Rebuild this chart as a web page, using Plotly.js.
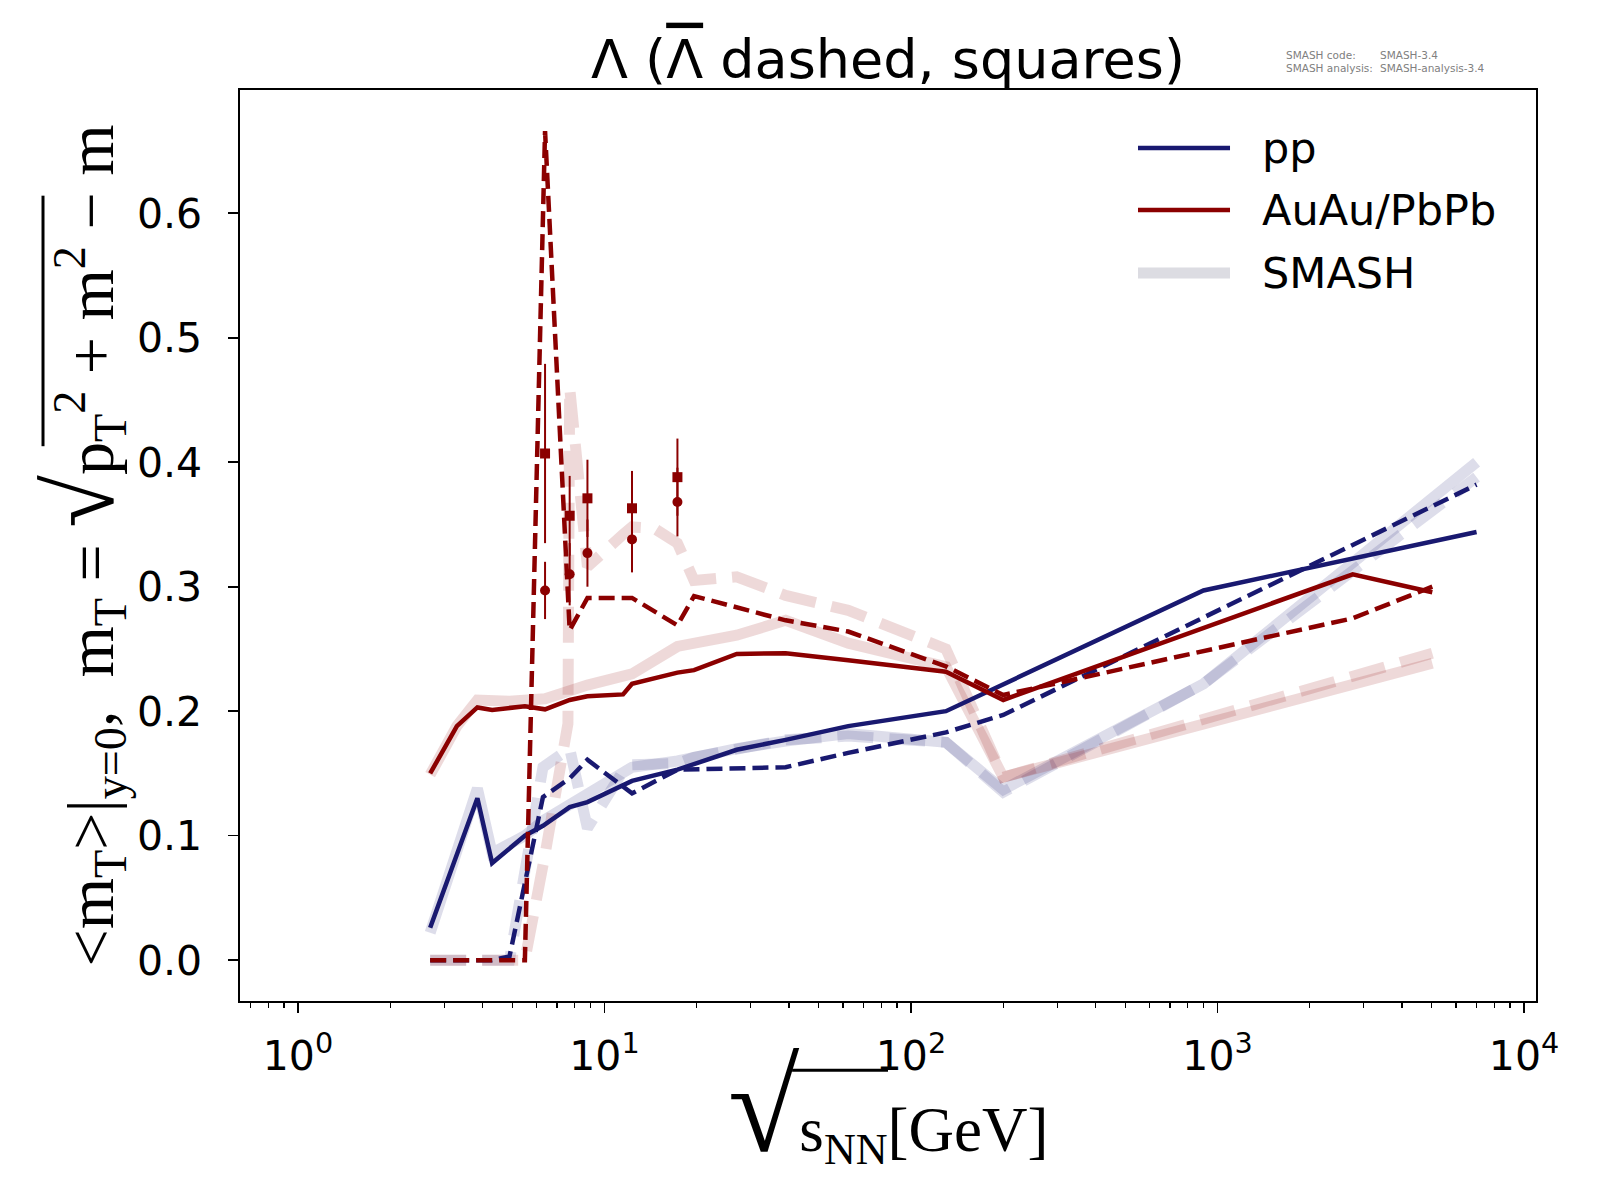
<!DOCTYPE html>
<html>
<head>
<meta charset="utf-8">
<script src="https://cdn.plot.ly/plotly-3.0.1.min.js"></script>
<style>html,body{margin:0;padding:0;background:#fff;}#chart{width:1600px;height:1200px;}</style>
</head>
<body>
<div id="chart"></div>
<script>
// ---- data ----
const ppLambdaX   = [2.7, 3.85, 4.3, 5.5, 6.3, 7.7, 8.8, 12.3, 17.3, 27, 39, 62.4, 130, 900, 7000];
const ppLambdaY   = [0.026, 0.130, 0.078, 0.100, 0.108, 0.123, 0.127, 0.144, 0.153, 0.169, 0.177, 0.188, 0.200, 0.297, 0.344];

const ppAntiX     = [2.7, 3.85, 4.3, 4.9, 6.3, 7.7, 8.8, 12.3, 17.3, 39, 62.4, 130, 200, 7000];
const ppAntiY     = [0, 0, 0, 0.003, 0.131, 0.146, 0.161, 0.134, 0.153, 0.155, 0.1665, 0.183, 0.197, 0.382];

const aaLambdaX   = [2.7, 3.3, 3.85, 4.3, 5.5, 6.4, 7.7, 8.8, 11.5, 12.3, 17.3, 19.6, 27, 39, 62.4, 130, 200, 2760, 5020];
const aaLambdaY   = [0.150, 0.188, 0.203, 0.201, 0.204, 0.2015, 0.209, 0.212, 0.2135, 0.222, 0.231, 0.233, 0.246, 0.2465, 0.241, 0.2317, 0.209, 0.310, 0.2955];

const aaAntiX     = [2.7, 3.3, 3.85, 4.3, 5.5, 6.4, 7.7, 8.8, 12.3, 17.3, 19.6, 39, 62.4, 130, 200, 2760, 5020];
const aaAntiY     = [0, 0, 0, 0, 0, 0.666, 0.265, 0.291, 0.291, 0.269, 0.2925, 0.273, 0.264, 0.236, 0.213, 0.2746, 0.300];

const smashPpLambdaX = [2.7, 3.85, 4.3, 5.5, 6.3, 7.7, 8.8, 12.3, 17.3, 27, 39, 62.4, 130, 200, 900, 7000];
const smashPpLambdaY = [0.022, 0.138, 0.086, 0.100, 0.112, 0.125, 0.132, 0.155, 0.160, 0.170, 0.176, 0.182, 0.175, 0.137, 0.222, 0.400];

const smashPpAntiX   = [2.7, 3.85, 4.9, 6.3, 7.7, 8.8, 11.5, 12.3, 17.3, 19.6, 27, 39, 62.4, 130, 200, 900, 7000];
const smashPpAntiY   = [0, 0, 0, 0.155, 0.170, 0.106, 0.152, 0.157, 0.158, 0.163, 0.170, 0.177, 0.180, 0.175, 0.135, 0.222, 0.388];

const smashAaLambdaX = [2.7, 3.3, 3.85, 4.9, 6.4, 8.8, 12.3, 17.3, 27, 39, 62.4, 130, 200, 5020];
const smashAaLambdaY = [0.149, 0.188, 0.209, 0.208, 0.210, 0.221, 0.230, 0.252, 0.261, 0.273, 0.2546, 0.2357, 0.147, 0.2385];

const smashAaAntiX   = [2.7, 3.3, 3.85, 4.3, 5.5, 6.4, 7.6, 7.7, 8.8, 11.5, 12.3, 14.5, 17.3, 19.6, 27, 39, 62.4, 130, 200, 5020];
const smashAaAntiY   = [0, 0, 0, 0, 0, 0.085, 0.19, 0.46, 0.316, 0.342, 0.348, 0.347, 0.335, 0.305, 0.308, 0.293, 0.281, 0.250, 0.147, 0.2465];

const expX        = [6.4, 7.7, 8.8, 12.3, 17.3];
const expLambdaY  = [0.297, 0.310, 0.327, 0.338, 0.368];
const expLambdaE  = [0.023, 0.025, 0.027, 0.0265, 0.0276];
const expAntiY    = [0.407, 0.357, 0.371, 0.363, 0.388];
const expAntiE    = [0.072, 0.032, 0.031, 0.030, 0.031];

const xTickVals   = [1, 10, 100, 1000, 10000];
const xTickText   = ['10<sup>0</sup>', '10<sup>1</sup>', '10<sup>2</sup>', '10<sup>3</sup>', '10<sup>4</sup>'];
const yTickVals   = [0, 0.1, 0.2, 0.3, 0.4, 0.5, 0.6];
const legendNames = ['pp', 'AuAu/PbPb', 'SMASH'];

// ---- styles ----
const NAVY = '#191970', DRED = '#8b0000';
const PALE_NAVY = 'rgba(25,25,112,0.15)', PALE_RED = 'rgba(139,0,0,0.15)';
const DATA_DASH = '16px,7px', PALE_DASH = '36px,16px';
const DATA_W = 4.5, PALE_W = 11;

function line(x, y, color, width, dash) {
  return {x: x, y: y, type: 'scatter', mode: 'lines', showlegend: false, hoverinfo: 'skip',
          line: {color: color, width: width, dash: dash || 'solid'}};
}

const minorVals = [0.7, 0.8, 0.9];
for (let d = 0; d < 4; d++) for (let k = 2; k <= 9; k++) minorVals.push(k * Math.pow(10, d));

const traces = [
  line(smashPpLambdaX, smashPpLambdaY, PALE_NAVY, PALE_W),
  line(smashPpAntiX, smashPpAntiY, PALE_NAVY, PALE_W, PALE_DASH),
  line(smashAaLambdaX, smashAaLambdaY, PALE_RED, PALE_W),
  line(smashAaAntiX, smashAaAntiY, PALE_RED, PALE_W, PALE_DASH),
  line(ppLambdaX, ppLambdaY, NAVY, DATA_W),
  line(ppAntiX, ppAntiY, NAVY, DATA_W, DATA_DASH),
  line(aaLambdaX, aaLambdaY, DRED, DATA_W),
  line(aaAntiX, aaAntiY, DRED, DATA_W, DATA_DASH),
  {x: expX, y: expLambdaY, type: 'scatter', mode: 'markers', showlegend: false,
   marker: {symbol: 'circle', size: 10, color: DRED},
   error_y: {type: 'data', array: expLambdaE, visible: true, thickness: 2, width: 0, color: DRED}},
  {x: expX, y: expAntiY, type: 'scatter', mode: 'markers', showlegend: false,
   marker: {symbol: 'square', size: 10, color: DRED},
   error_y: {type: 'data', array: expAntiE, visible: true, thickness: 2, width: 0, color: DRED}}
];

// manual legend (paper coordinates)
const legX0 = 0.6929, legX1 = 0.7639, legTX = 0.787;
const legY = [0.9363, 0.8683, 0.7991];
const legStyles = [{c: NAVY, w: DATA_W}, {c: DRED, w: DATA_W}, {c: '#dcdce2', w: PALE_W}];
const shapes = legY.map((y, i) => ({type: 'line', xref: 'paper', yref: 'paper', x0: legX0, x1: legX1, y0: y, y1: y,
  line: {color: legStyles[i].c, width: legStyles[i].w}}));

// vinculum (overline) of the square roots in the axis titles
shapes.push({type: 'line', xref: 'paper', yref: 'paper', x0: 0.4260, x1: 0.5, y0: -0.0760, y1: -0.0760,
             line: {color: '#000', width: 3}});
shapes.push({type: 'line', xref: 'paper', yref: 'paper', x0: -0.1520, x1: -0.1520, y0: 0.884, y1: 0.609,
             line: {color: '#000', width: 3}});

const annotations = legY.map((y, i) => ({xref: 'paper', yref: 'paper', x: legTX, y: y, xanchor: 'left', yanchor: 'middle',
  showarrow: false, text: legendNames[i], font: {family: 'DejaVu Sans', size: 43, color: '#000'}}));

// x-axis title
annotations.push({xref: 'paper', yref: 'paper', x: 0.5, y: -0.198, xanchor: 'center', yanchor: 'bottom', showarrow: false,
  text: '<span style="font-size:130px">√</span>s<sub>NN</sub>[GeV]',
  font: {family: 'Liberation Serif', size: 63, color: '#000'}});

const smallFont = {family: 'DejaVu Sans', size: 10.5, color: '#808080'};
annotations.push(
  {xref: 'paper', yref: 'paper', x: 0.8056, y: 1.0384, xanchor: 'left', yanchor: 'middle', showarrow: false, text: 'SMASH code:', font: smallFont},
  {xref: 'paper', yref: 'paper', x: 0.8781, y: 1.0384, xanchor: 'left', yanchor: 'middle', showarrow: false, text: 'SMASH-3.4', font: smallFont},
  {xref: 'paper', yref: 'paper', x: 0.8056, y: 1.0245, xanchor: 'left', yanchor: 'middle', showarrow: false, text: 'SMASH analysis:', font: smallFont},
  {xref: 'paper', yref: 'paper', x: 0.8781, y: 1.0245, xanchor: 'left', yanchor: 'middle', showarrow: false, text: 'SMASH-analysis-3.4', font: smallFont}
);

const layout = {
  width: 1600, height: 1200,
  paper_bgcolor: '#fff', plot_bgcolor: '#fff',
  margin: {l: 240, r: 64, t: 90, b: 199},
  showlegend: false,
  font: {family: 'DejaVu Sans', color: '#000'},
  title: {text: 'Λ (<span style="text-decoration:overline">Λ</span> dashed, squares)', xref: 'paper', x: 0.5, xanchor: 'center',
          yref: 'container', y: 0.951, yanchor: 'middle', font: {family: 'DejaVu Sans', size: 54, color: '#000'}},
  xaxis: {
    type: 'log', range: [-0.189, 4.039], autorange: false,
    tickmode: 'array', tickvals: xTickVals, ticktext: xTickText,
    ticks: 'outside', ticklen: 10, tickwidth: 1.6, tickcolor: '#000',
    minor: {tickmode: 'array', tickvals: minorVals, ticks: 'outside', ticklen: 5, tickwidth: 1.2, tickcolor: '#000', showgrid: false},
    showline: true, linecolor: '#000', linewidth: 1.7, mirror: true,
    showgrid: false, zeroline: false,
    tickfont: {family: 'DejaVu Sans', size: 41, color: '#000'}, ticklabelstandoff: 8
  },
  yaxis: {
    range: [-0.0328, 0.699], autorange: false,
    tickmode: 'array', tickvals: yTickVals, tickformat: '.1f',
    ticks: 'outside', ticklen: 10, tickwidth: 1.6, tickcolor: '#000',
    showline: true, linecolor: '#000', linewidth: 1.7, mirror: true,
    showgrid: false, zeroline: false,
    tickfont: {family: 'DejaVu Sans', size: 41, color: '#000'}, ticklabelstandoff: 18,
    title: {text: '&lt;m<sub>T</sub>&gt;|<sub>y=0</sub>,  m<sub>T</sub> = <span style="font-size:96px">√</span>p<sub>T</sub><sup>2</sup> + m<sup>2</sup> − m',
            standoff: 2, font: {family: 'Liberation Serif', size: 66, color: '#000'}}
  },
  shapes: shapes,
  annotations: annotations
};

Plotly.newPlot('chart', traces, layout, {displayModeBar: false, staticPlot: true});
</script>
</body>
</html>
